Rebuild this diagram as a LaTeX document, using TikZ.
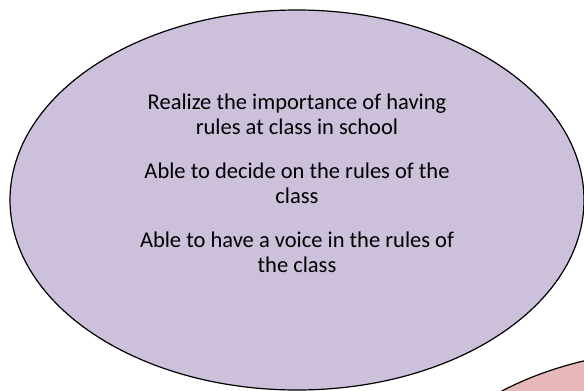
\documentclass[tikz,border=0pt]{standalone}
\usepackage{fontspec}
\setmainfont{Carlito}
\usetikzlibrary{shapes.geometric}
\definecolor{lavender}{HTML}{CCC0DA}
\definecolor{rosy}{HTML}{E6B9B8}

\begin{document}
\begin{tikzpicture}[x=1pt, y=-1pt,
    bubble/.style={ellipse, draw, line width=1.2pt, minimum width=574pt, minimum height=380pt, inner sep=0pt}]
    \useasboundingbox (0,0) rectangle (584,391);
    \clip (0,0) rectangle (584,391);

    \node[bubble, fill=lavender](goals) at (297,200){};
    \node[bubble, fill=rosy](next) at (680,540){};

    \node[align=center, font=\fontsize{22.5}{25}\selectfont](aims) at (297,183){
        Realize the importance of having\\ rules at class in school\\[19pt]
        Able to decide on the rules of the\\ class\\[19pt]
        Able to have a voice in the rules of\\ the class};

\end{tikzpicture}
\end{document}
